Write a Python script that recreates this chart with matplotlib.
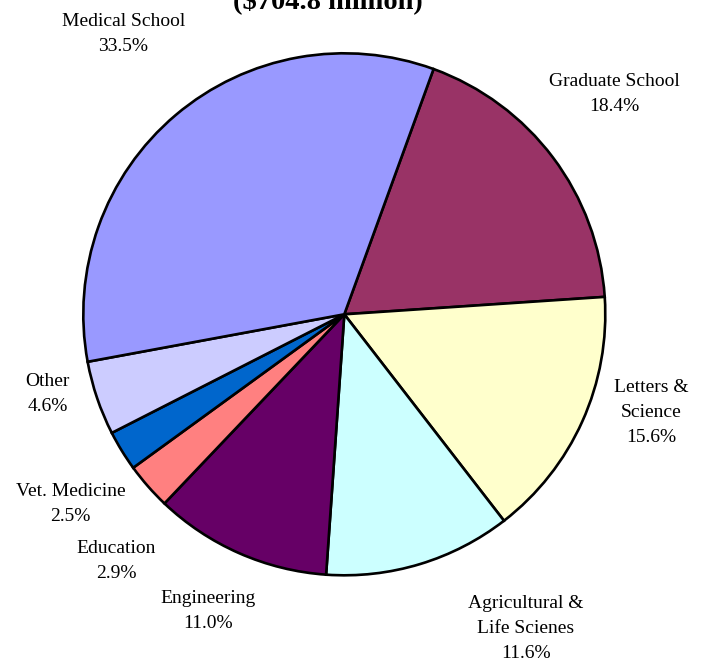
import matplotlib.pyplot as plt
import numpy as np

# dane (procent budżetu wg wydziału), kolejność zgodna z ruchem wskazówek zegara
schools = ["Graduate School", "Letters &\nScience", "Agricultural &\nLife Scienes",
           "Engineering", "Education", "Vet. Medicine", "Other", "Medical School"]
shares = [18.4, 15.6, 11.6, 11.0, 2.9, 2.5, 4.6, 33.5]
pct_labels = ["18.4%", "15.6%", "11.6%", "11.0%", "2.9%", "2.5%", "4.6%", "33.5%"]
title_text = "($704.8 million)"

colors = ["#993366", "#FFFFCC", "#CCFFFF", "#660066",
          "#FF8080", "#0066CC", "#CCCCFF", "#9999FF"]

# położenie etykiet: odległość od środka i korekta kąta (stopnie)
label_dist = [1.334, 1.234, 1.39, 1.252, 1.287, 1.275, 1.178, 1.367]
label_nudge = [2.3, 6.5, 13.2, -0.8, 6.0, 3.2, -3.7, -2.0]

plt.rcParams['font.family'] = ['Liberation Serif', 'DejaVu Serif']

W, H = 702, 666
fig = plt.figure(figsize=(W / 100, H / 100), dpi=100)
cx, cy, r = 344.3, 314.3, 261
ax = fig.add_axes([(cx - r) / W, (H - cy - r) / H, 2 * r / W, 2 * r / H])

wedges, _ = ax.pie(shares, colors=colors, startangle=70, counterclock=False,
                   wedgeprops=dict(edgecolor="black", linewidth=1.9))
ax.set_xlim(-1, 1)
ax.set_ylim(-1, 1)

for w, name, pct, d, dn in zip(wedges, schools, pct_labels, label_dist, label_nudge):
    mid = np.deg2rad((w.theta1 + w.theta2) / 2 + dn)
    ax.text(d * np.cos(mid), d * np.sin(mid), name + "\n" + pct,
            ha="center", va="center", fontsize=14, linespacing=1.62)

# tytuł ucięty u góry, jak w oryginale
fig.text(328 / W, 1 - 8 / H, title_text, ha="center", va="baseline",
         fontsize=20.5, fontweight="bold")

fig.savefig("out.png", dpi=100, facecolor="white")
